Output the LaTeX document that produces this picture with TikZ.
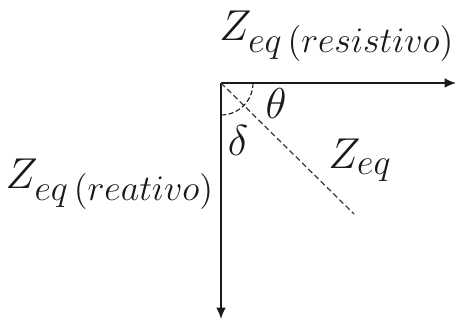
\documentclass[tikz,border=0pt]{standalone}
\usepackage{amsmath}
\usepackage{tikz}
\usetikzlibrary{positioning,arrows.meta}
\definecolor{ink}{HTML}{1A1A1A}

\begin{document}
\begin{tikzpicture}[x=0.4pt, y=-0.4pt,
    every node/.style={font=\fontsize{19}{21}\selectfont, text=ink, inner sep=1pt},
    axis/.style={-{Latex[length=4.6pt,width=4pt]}, draw=ink, line width=0.8pt},
    phasor/.style={draw=ink!85, dash pattern=on 2.2pt off 1.3pt, line width=0.5pt},
    ang/.style={draw=ink, dash pattern=on 2pt off 1pt, line width=0.45pt},
  ]
  \useasboundingbox (0,0) rectangle (457,324);

  % axes
  \coordinate (o) at (221,83);
  \coordinate (res) at (456,83);
  \coordinate (rea) at (221,319);
  \coordinate (zend) at (354,214);

  \draw[axis] (o) -- (res);
  \draw[axis] (o) -- (rea);

  % impedance and angle
  \draw[phasor] (o) -- (zend);
  \draw[ang] (253,83) arc[start angle=0, end angle=90, radius=32];

  % labels
  \node (lres) at (337,36) {$Z_{eq\,(resistivo)}$};
  \node (lrea) at (110,184) {$Z_{eq\,(reativo)}$};
  \node (ltheta) at (276,104) {$\theta$};
  \node (ldelta) at (238,141) {$\delta$};
  \node (lz) at (360,160) {$Z_{eq}$};
\end{tikzpicture}
\end{document}
